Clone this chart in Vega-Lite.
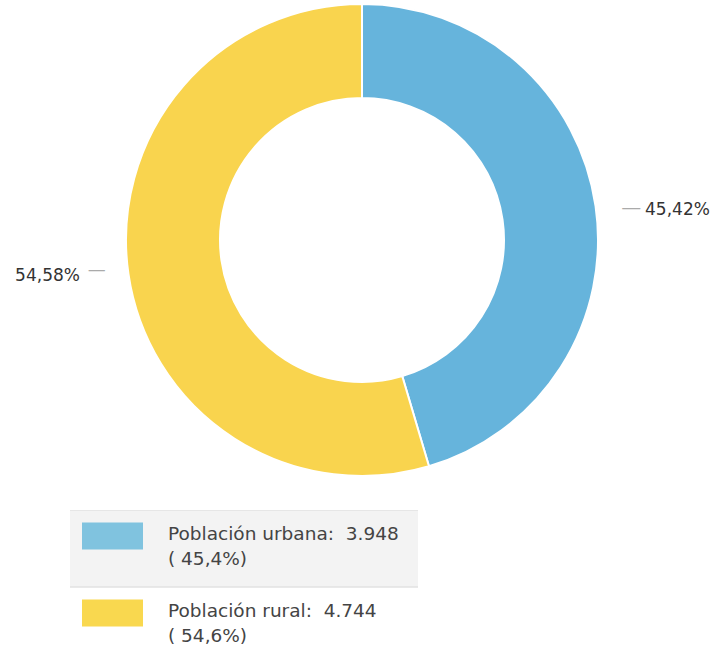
{
  "$schema": "https://vega.github.io/schema/vega-lite/v6.json",
  "background": "white",
  "padding": {"left": 11, "top": 0, "right": 0, "bottom": 0},
  "spacing": 32,
  "bounds": "flush",
  "config": {"view": {"stroke": null}, "font": "DejaVu Sans"},
  "datasets": {
    "poblacion": [
      {"cat": "urbana", "orden": 1, "valor": 3948, "pct": "45,42%", "linea1": "Población urbana:\u00a0 3.948", "linea2": "( 45,4%)"},
      {"cat": "rural", "orden": 2, "valor": 4744, "pct": "54,58%", "linea1": "Población rural:\u00a0 4.744", "linea2": "( 54,6%)"}
    ]
  },
  "resolve": {"scale": {"color": "independent"}},
  "vconcat": [
    {
      "width": 702,
      "height": 476,
      "data": {"name": "poblacion"},
      "encoding": {
        "theta": {"field": "valor", "type": "quantitative", "stack": true},
        "order": {"field": "orden", "type": "quantitative"}
      },
      "layer": [
        {
          "mark": {"type": "arc", "outerRadius": 236, "innerRadius": 142, "stroke": "white", "strokeWidth": 2},
          "encoding": {
            "color": {"field": "cat", "type": "nominal", "legend": null,
              "scale": {"domain": ["urbana", "rural"], "range": ["#66b4dc", "#f9d44e"]}}
          }
        },
        {
          "mark": {"type": "text", "radius": 286, "align": "left", "baseline": "middle", "dy": 11, "fontSize": 17, "fill": "#333"},
          "encoding": {"text": {"condition": {"test": "datum.cat === 'urbana'", "field": "pct"}, "value": ""}}
        },
        {
          "mark": {"type": "text", "radius": 285, "align": "right", "baseline": "middle", "dy": -5, "fontSize": 17, "fill": "#333"},
          "encoding": {"text": {"condition": {"test": "datum.cat === 'rural'", "field": "pct"}, "value": ""}}
        },
        {
          "mark": {"type": "text", "radius": 272, "align": "center", "baseline": "middle", "dy": 7, "fontSize": 20, "fill": "#aaa"},
          "encoding": {"text": {"condition": {"test": "datum.cat === 'urbana'", "value": "—"}, "value": ""}}
        },
        {
          "mark": {"type": "text", "radius": 268, "align": "center", "baseline": "middle", "dy": -8, "fontSize": 18, "fill": "#aaa"},
          "encoding": {"text": {"condition": {"test": "datum.cat === 'rural'", "value": "—"}, "value": ""}}
        }
      ]
    },
    {
      "width": 407,
      "height": 137,
      "data": {"name": "poblacion"},
      "encoding": {
        "y": {"field": "cat", "type": "nominal", "axis": null, "sort": ["urbana", "rural"],
          "scale": {"domain": ["urbana", "rural"], "range": [0, 154], "paddingInner": 0, "paddingOuter": 0}}
      },
      "layer": [
        {
          "mark": {"type": "rect", "clip": true},
          "encoding": {
            "x": {"value": 59},
            "x2": {"value": 407},
            "color": {"condition": {"test": "datum.cat === 'urbana'", "value": "#f3f3f3"}, "value": "white"}
          }
        },
        {
          "mark": {"type": "rule", "clip": true, "color": "#e2e2e2", "strokeWidth": 1.5},
          "encoding": {
            "y": {"field": "cat", "type": "nominal", "bandPosition": 0, "axis": null},
            "x": {"value": 59},
            "x2": {"value": 407}
          }
        },
        {
          "mark": {"type": "point", "clip": true, "filled": true, "opacity": 1, "strokeWidth": 0,
            "shape": "M-1,-0.443H1V0.443H-1Z", "size": 3721, "yOffset": -12.5},
          "encoding": {
            "x": {"value": 101.5},
            "color": {"field": "cat", "type": "nominal", "legend": null,
              "scale": {"domain": ["urbana", "rural"], "range": ["#80c3df", "#f9d84f"]}}
          }
        },
        {
          "mark": {"type": "text", "clip": true, "align": "left", "baseline": "alphabetic", "fontSize": 18.5, "fill": "#444", "yOffset": -8.5},
          "encoding": {"x": {"value": 157}, "text": {"field": "linea1"}}
        },
        {
          "mark": {"type": "text", "clip": true, "align": "left", "baseline": "alphabetic", "fontSize": 18.5, "fill": "#444", "yOffset": 16.5},
          "encoding": {"x": {"value": 157}, "text": {"field": "linea2"}}
        }
      ]
    }
  ]
}
